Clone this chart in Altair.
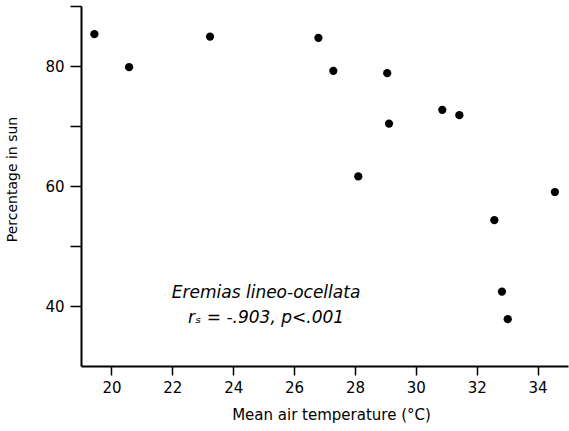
import altair as alt
import pandas as pd

# Data
temp = [19.44, 20.58, 23.24, 26.80, 27.29, 29.06, 29.12, 28.11, 30.87, 31.43, 32.58, 32.83, 33.02, 34.57]
sun = [85.3, 79.8, 84.9, 84.7, 79.2, 78.8, 70.4, 61.6, 72.7, 71.8, 54.3, 42.4, 37.8, 59.0]

x_ticks = list(range(20, 35))
y_ticks = [40, 50, 60, 70, 80, 90]

ann_text = ["Eremias lineo-ocellata", "rₛ = -.903, p<.001"]
ann_x = [25.08, 25.08]
ann_y = [42.2, 38.0]

df = pd.DataFrame({"temp": temp, "sun": sun})
ann = pd.DataFrame({"t": ann_text, "x": ann_x, "y": ann_y})

FONT = "DejaVu Sans"

x_scale = alt.Scale(domain=[19, 35], nice=False, zero=False)
y_scale = alt.Scale(domain=[30, 90], nice=False, zero=False)

points = alt.Chart(df).mark_circle(size=68, color="black", opacity=1).encode(
    x=alt.X(
        "temp:Q",
        scale=x_scale,
        axis=alt.Axis(
            title="Mean air temperature (°C)",
            values=x_ticks,
            labelExpr="datum.value % 2 == 0 ? datum.label : ''",
            tickSize=9,
            tickWidth=1.5,
            tickColor="black",
            domainColor="black",
            domainWidth=2,
            grid=False,
            labelFont=FONT,
            labelFontSize=15,
            labelColor="black",
            labelPadding=5,
            titleFont=FONT,
            titleFontSize=15,
            titleFontWeight="normal",
            titleColor="black",
            titleX=250,
            titleY=48,
            titleBaseline="middle",
        ),
    ),
    y=alt.Y(
        "sun:Q",
        scale=y_scale,
        axis=alt.Axis(
            title="Percentage in sun",
            values=y_ticks,
            labelExpr="datum.value % 20 == 0 ? datum.label : ''",
            tickSize=11,
            tickWidth=1.5,
            tickColor="black",
            domainColor="black",
            domainWidth=2,
            grid=False,
            labelFont=FONT,
            labelFontSize=15,
            labelColor="black",
            labelPadding=6,
            titleFont=FONT,
            titleFontSize=14,
            titleFontWeight="normal",
            titleColor="black",
            titleX=-69,
            titleY=173,
            titleBaseline="middle",
            titleAlign="center",
        ),
    ),
)

text = alt.Chart(ann).mark_text(
    font=FONT, fontSize=17, fontStyle="italic", color="black", align="center", baseline="middle"
).encode(
    x=alt.X("x:Q", scale=x_scale),
    y=alt.Y("y:Q", scale=y_scale),
    text="t:N",
)

chart = (
    alt.layer(points, text)
    .properties(
        width=487,
        height=360,
        autosize=alt.AutoSizeParams(type="none"),
        padding={"left": 81, "top": 6, "right": 1, "bottom": 65},
        background="white",
    )
    .configure_view(stroke=None)
)

chart.save("out.html", embed_options={"renderer": "svg", "actions": False})
